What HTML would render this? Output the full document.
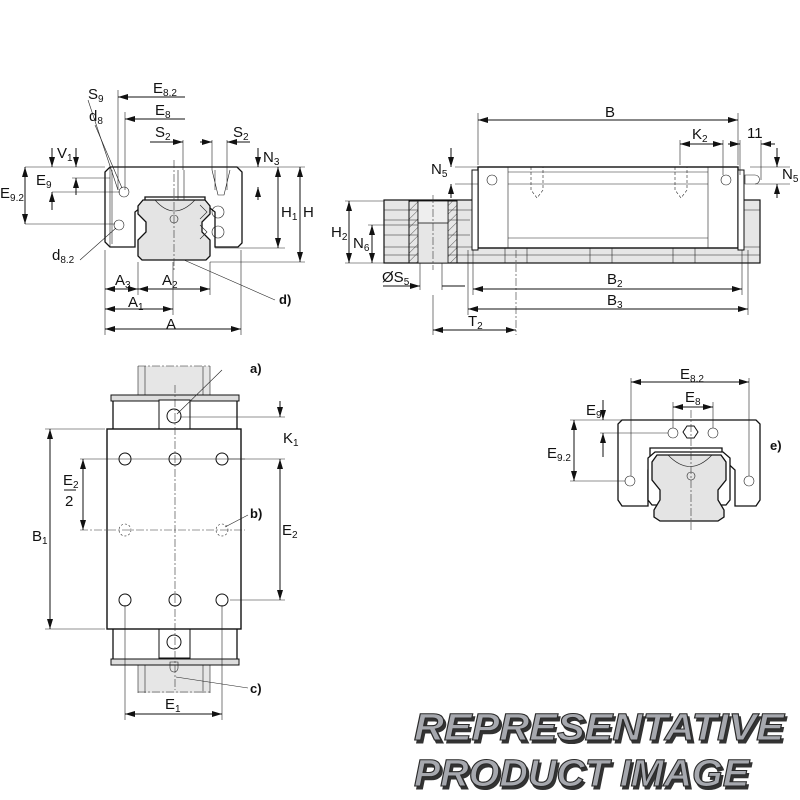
<!DOCTYPE html>
<html><head><meta charset="utf-8"><style>
html,body{margin:0;padding:0;background:#fff}
svg{display:block}
text{font-family:"Liberation Sans",sans-serif;fill:#111}
.l{stroke:#111;fill:none;stroke-width:1}
.t{stroke:#222;fill:none;stroke-width:.6}
.c{stroke:#333;fill:none;stroke-width:.6;stroke-dasharray:8 2 2 2}
.g{fill:#e4e4e4;stroke:#111;stroke-width:1.3}
.w{fill:#fff;stroke:#111;stroke-width:1.3}
.wm{font-family:"Liberation Sans",sans-serif;font-weight:bold;font-style:italic;font-size:38px;fill:#a6a8ae;stroke:#2a2a2a;stroke-width:1.1}
</style></head><body>
<svg width="800" height="800" viewBox="0 0 800 800" xmlns="http://www.w3.org/2000/svg">
<defs>
<marker id="a" viewBox="0 0 10 6" refX="10" refY="3" markerWidth="10" markerHeight="6" orient="auto-start-reverse" markerUnits="userSpaceOnUse"><path d="M0,0L10,3L0,6z" fill="#111"/></marker>
<pattern id="h" width="6" height="6" patternUnits="userSpaceOnUse" patternTransform="rotate(45)"><line x1="0" y1="0" x2="0" y2="6" stroke="#333" stroke-width=".8"/></pattern>
</defs>

<!-- ===== TOP LEFT: cross section ===== -->
<path class="w" d="M110,167 H237 L242,172 V243 L238,247 H215 V212 L205,204 V197 H145 V204 L135,212 V247 H110 L105,242 V172 Z"/>
<path class="g" d="M143,200 H205 L210,206 V214 L202,222 V232 L210,240 V256 L206,260 H142 L138,256 V240 L146,232 V222 L138,214 V206 Z"/>
<path class="t" d="M155,200 Q174,222 195,200"/>
<circle class="t" cx="174" cy="219" r="4"/>
<path class="t" d="M212,170 L218,195 L224,195 L230,170 M215,170 V190 M227,170 V190"/>
<path class="t" d="M178,170 V200 M184,170 V200"/>
<circle class="t" cx="218" cy="212" r="6"/><circle class="t" cx="218" cy="232" r="6"/>
<path class="t" d="M200,205 l7,7 l-7,7 M200,225 l7,7 l-7,7"/>
<circle class="t" cx="124" cy="192" r="5"/><circle class="t" cx="119" cy="225" r="5"/>
<path class="t" d="M110,167 V247 M112,170 V244"/>
<line class="c" x1="174" y1="160" x2="174" y2="270"/>
<g class="t">
<line x1="105" y1="250" x2="105" y2="335"/><line x1="241" y1="250" x2="241" y2="335"/>
<line x1="138" y1="262" x2="138" y2="295"/><line x1="210" y1="262" x2="210" y2="295"/><line x1="173" y1="262" x2="173" y2="315"/>
<line x1="215" y1="248" x2="285" y2="248"/><line x1="210" y1="262" x2="305" y2="262"/><line x1="237" y1="167" x2="305" y2="167"/>
<line x1="25" y1="167" x2="105" y2="167"/><line x1="25" y1="224" x2="115" y2="224"/><line x1="52" y1="192" x2="120" y2="192"/><line x1="72" y1="178" x2="110" y2="178"/>
<line x1="118" y1="90" x2="118" y2="190"/><line x1="125" y1="112" x2="125" y2="190"/>
<line x1="183" y1="140" x2="183" y2="170"/><line x1="227" y1="140" x2="227" y2="170"/><line x1="212" y1="140" x2="212" y2="170"/>
<line x1="88" y1="100" x2="118" y2="190"/><line x1="95" y1="125" x2="122" y2="188"/>
<line x1="80" y1="260" x2="116" y2="228"/><line x1="184" y1="260" x2="275" y2="300"/>
</g>
<g class="l">
<line x1="105" y1="329" x2="241" y2="329" marker-start="url(#a)" marker-end="url(#a)"/>
<line x1="105" y1="309" x2="173" y2="309" marker-start="url(#a)" marker-end="url(#a)"/>
<line x1="105" y1="289" x2="138" y2="289" marker-start="url(#a)" marker-end="url(#a)"/>
<line x1="138" y1="289" x2="210" y2="289" marker-start="url(#a)" marker-end="url(#a)"/>
<line x1="300" y1="167" x2="300" y2="262" marker-start="url(#a)" marker-end="url(#a)"/>
<line x1="278" y1="167" x2="278" y2="248" marker-start="url(#a)" marker-end="url(#a)"/>
<line x1="25" y1="167" x2="25" y2="224" marker-start="url(#a)" marker-end="url(#a)"/>
<line x1="185" y1="97" x2="118" y2="97" marker-end="url(#a)"/>
<line x1="185" y1="119" x2="125" y2="119" marker-end="url(#a)"/>
<line x1="150" y1="142" x2="183" y2="142" marker-end="url(#a)"/>
<line x1="200" y1="142" x2="212" y2="142" marker-end="url(#a)"/>
<line x1="250" y1="142" x2="227" y2="142" marker-end="url(#a)"/>
<line x1="52" y1="148" x2="52" y2="167" marker-end="url(#a)"/><line x1="52" y1="210" x2="52" y2="192" marker-end="url(#a)"/>
<line x1="76" y1="148" x2="76" y2="167" marker-end="url(#a)"/><line x1="76" y1="195" x2="76" y2="178" marker-end="url(#a)"/>
<line x1="258" y1="148" x2="258" y2="167" marker-end="url(#a)"/><line x1="258" y1="200" x2="258" y2="187" marker-end="url(#a)"/>
</g>
<g font-size="15">
<text x="166" y="329">A</text>
<text x="128" y="307">A<tspan font-size="10" dy="3">1</tspan></text>
<text x="115" y="285">A<tspan font-size="10" dy="3">3</tspan></text>
<text x="162" y="285">A<tspan font-size="10" dy="3">2</tspan></text>
<text x="281" y="217">H<tspan font-size="10" dy="3">1</tspan></text><text x="303" y="217">H</text>
<text x="263" y="162">N<tspan font-size="10" dy="3">3</tspan></text>
<text x="0" y="198">E<tspan font-size="10" dy="3">9.2</tspan></text>
<text x="36" y="185">E<tspan font-size="10" dy="3">9</tspan></text>
<text x="57" y="158">V<tspan font-size="10" dy="3">1</tspan></text>
<text x="153" y="93">E<tspan font-size="10" dy="3">8.2</tspan></text>
<text x="155" y="115">E<tspan font-size="10" dy="3">8</tspan></text>
<text x="88" y="99">S<tspan font-size="10" dy="3">9</tspan></text>
<text x="89" y="121">d<tspan font-size="10" dy="3">8</tspan></text>
<text x="155" y="137">S<tspan font-size="10" dy="3">2</tspan></text>
<text x="233" y="137">S<tspan font-size="10" dy="3">2</tspan></text>
<text x="52" y="260">d<tspan font-size="10" dy="3">8.2</tspan></text>
<text x="279" y="304" font-weight="bold" font-size="13">d)</text>
</g>

<!-- ===== TOP RIGHT: side view ===== -->
<rect x="384" y="200" width="376" height="63" fill="#e6e6e6" stroke="#111" stroke-width="1.2"/>
<g class="t"><line x1="384" y1="210" x2="760" y2="210"/><line x1="384" y1="220" x2="470" y2="220"/><line x1="384" y1="235" x2="470" y2="235"/><line x1="384" y1="247" x2="760" y2="247"/><line x1="384" y1="255" x2="760" y2="255"/>
<line x1="505" y1="248" x2="505" y2="263"/><line x1="527" y1="248" x2="527" y2="263"/><line x1="590" y1="248" x2="590" y2="263"/><line x1="612" y1="248" x2="612" y2="263"/><line x1="673" y1="248" x2="673" y2="263"/><line x1="695" y1="248" x2="695" y2="263"/></g>
<rect x="409" y="201" width="48" height="62" fill="url(#h)" stroke="#111" stroke-width="1"/>
<rect x="418" y="201" width="30" height="62" fill="#e6e6e6" stroke="#111" stroke-width=".8"/>
<rect x="418" y="201" width="30" height="22" fill="#eee" stroke="#111" stroke-width=".8"/>
<rect x="478" y="167" width="260" height="81" fill="#fff" stroke="#111" stroke-width="1.4"/>
<rect x="472" y="170" width="6" height="80" fill="#fff" stroke="#111"/>
<rect x="738" y="170" width="6" height="80" fill="#fff" stroke="#111"/>
<g class="t"><line x1="508" y1="167" x2="508" y2="248"/><line x1="708" y1="167" x2="708" y2="248"/><line x1="508" y1="172" x2="708" y2="172"/><line x1="508" y1="184" x2="708" y2="184"/><line x1="508" y1="238" x2="708" y2="238"/>
<path d="M531,167 V190 L537,198 L543,190 V167 M675,167 V190 L681,198 L687,190 V167" stroke-dasharray="3 2"/></g>
<circle class="t" cx="492" cy="180" r="5"/><circle class="t" cx="726" cy="180" r="5"/>
<path class="t" d="M745,175 h10 a4,4 0 0 1 0,9 h-10 z"/>
<g class="t">
<line x1="478" y1="113" x2="478" y2="165"/><line x1="738" y1="113" x2="738" y2="165"/>
<line x1="680" y1="140" x2="680" y2="165"/><line x1="723" y1="140" x2="723" y2="175"/><line x1="740" y1="140" x2="740" y2="175"/><line x1="761" y1="140" x2="761" y2="180"/>
<line x1="455" y1="167" x2="478" y2="167"/><line x1="455" y1="184" x2="478" y2="184"/>
<line x1="750" y1="167" x2="790" y2="167"/><line x1="755" y1="184" x2="790" y2="184"/>
<line x1="345" y1="201" x2="384" y2="201"/><line x1="368" y1="225" x2="418" y2="225"/><line x1="345" y1="263" x2="384" y2="263"/>
<line x1="420" y1="263" x2="420" y2="290"/><line x1="442" y1="263" x2="442" y2="290"/>
<line x1="473" y1="250" x2="473" y2="295"/><line x1="742" y1="250" x2="742" y2="295"/><line x1="468" y1="250" x2="468" y2="315"/><line x1="748" y1="250" x2="748" y2="315"/>
<line x1="433" y1="295" x2="433" y2="335"/>
</g>
<line class="c" x1="516" y1="250" x2="516" y2="335"/><line class="c" x1="433" y1="195" x2="433" y2="270"/>
<g class="l">
<line x1="478" y1="120" x2="738" y2="120" marker-start="url(#a)" marker-end="url(#a)"/>
<line x1="680" y1="144" x2="723" y2="144" marker-start="url(#a)" marker-end="url(#a)"/>
<line x1="728" y1="144" x2="740" y2="144" marker-end="url(#a)"/><line x1="775" y1="144" x2="761" y2="144" marker-end="url(#a)"/>
<line x1="451" y1="148" x2="451" y2="167" marker-end="url(#a)"/><line x1="451" y1="198" x2="451" y2="184" marker-end="url(#a)"/>
<line x1="777" y1="148" x2="777" y2="167" marker-end="url(#a)"/><line x1="777" y1="198" x2="777" y2="184" marker-end="url(#a)"/>
<line x1="349" y1="201" x2="349" y2="263" marker-start="url(#a)" marker-end="url(#a)"/>
<line x1="372" y1="225" x2="372" y2="263" marker-start="url(#a)" marker-end="url(#a)"/>
<line x1="383" y1="286" x2="420" y2="286" marker-end="url(#a)"/><line x1="442" y1="286" x2="465" y2="286"/>
<line x1="473" y1="289" x2="742" y2="289" marker-start="url(#a)" marker-end="url(#a)"/>
<line x1="468" y1="309" x2="748" y2="309" marker-start="url(#a)" marker-end="url(#a)"/>
<line x1="433" y1="330" x2="516" y2="330" marker-start="url(#a)" marker-end="url(#a)"/>
</g>
<g font-size="15">
<text x="605" y="117">B</text>
<text x="692" y="139">K<tspan font-size="10" dy="3">2</tspan></text>
<text x="747" y="138">11</text>
<text x="431" y="174">N<tspan font-size="10" dy="3">5</tspan></text>
<text x="782" y="179">N<tspan font-size="10" dy="3">5</tspan></text>
<text x="331" y="237">H<tspan font-size="10" dy="3">2</tspan></text>
<text x="353" y="248">N<tspan font-size="10" dy="3">6</tspan></text>
<text x="382" y="282">ØS<tspan font-size="10" dy="3">5</tspan></text>
<text x="607" y="284">B<tspan font-size="10" dy="3">2</tspan></text>
<text x="607" y="305">B<tspan font-size="10" dy="3">3</tspan></text>
<text x="468" y="326">T<tspan font-size="10" dy="3">2</tspan></text>
</g>

<!-- ===== BOTTOM LEFT: top view ===== -->
<rect x="138" y="366" width="72" height="327" fill="#e6e6e6" stroke="none"/>
<g class="t"><line x1="138" y1="366" x2="138" y2="693"/><line x1="145" y1="366" x2="145" y2="693"/><line x1="203" y1="366" x2="203" y2="693"/><line x1="210" y1="366" x2="210" y2="693"/><line x1="138" y1="366" x2="210" y2="366" stroke-dasharray="8 2 2 2"/><line x1="138" y1="692" x2="210" y2="692" stroke-dasharray="8 2 2 2"/></g>
<rect x="113" y="398" width="124" height="264" fill="#fff" stroke="#111" stroke-width="1.3"/>
<rect x="111" y="395" width="128" height="6" fill="#ddd" stroke="#111"/><rect x="111" y="659" width="128" height="6" fill="#ddd" stroke="#111"/>
<rect x="159" y="400" width="31" height="29" fill="#fff" stroke="#111"/><rect x="159" y="629" width="31" height="29" fill="#fff" stroke="#111"/>
<circle class="l" cx="174" cy="416" r="7"/><circle class="l" cx="174" cy="642" r="7"/>
<rect x="107" y="429" width="134" height="200" fill="#fff" stroke="#111" stroke-width="1.4"/>
<g class="l" stroke-width="1.2">
<circle cx="125" cy="459" r="6"/><circle cx="175" cy="459" r="6"/><circle cx="222" cy="459" r="6"/>
<circle cx="125" cy="600" r="6"/><circle cx="175" cy="600" r="6"/><circle cx="222" cy="600" r="6"/>
</g>
<g class="t" stroke-dasharray="2 2"><circle cx="125" cy="530" r="6"/><circle cx="222" cy="530" r="6"/></g>
<path class="t" d="M170,662 h8 v6 a4,4 0 0 1 -8,0 z"/>
<line class="c" x1="175" y1="385" x2="175" y2="690"/>
<line class="c" x1="80" y1="530" x2="245" y2="530"/>
<g class="t">
<line x1="45" y1="429" x2="105" y2="429"/><line x1="45" y1="629" x2="105" y2="629"/>
<line x1="80" y1="459" x2="245" y2="459"/><line x1="230" y1="600" x2="285" y2="600"/><line x1="180" y1="417" x2="285" y2="417"/><line x1="228" y1="459" x2="285" y2="459"/>
<line x1="125" y1="605" x2="125" y2="720"/><line x1="222" y1="605" x2="222" y2="720"/>
<line x1="177" y1="414" x2="222" y2="370"/><line x1="225" y1="527" x2="248" y2="515"/><line x1="176" y1="677" x2="248" y2="688"/>
</g>
<g class="l">
<line x1="50" y1="429" x2="50" y2="629" marker-start="url(#a)" marker-end="url(#a)"/>
<line x1="83" y1="459" x2="83" y2="530" marker-start="url(#a)" marker-end="url(#a)"/>
<line x1="280" y1="459" x2="280" y2="600" marker-start="url(#a)" marker-end="url(#a)"/>
<line x1="280" y1="401" x2="280" y2="417" marker-end="url(#a)"/><line x1="280" y1="470" x2="280" y2="459"/>
<line x1="125" y1="714" x2="222" y2="714" marker-start="url(#a)" marker-end="url(#a)"/>
</g>
<line x1="64" y1="490" x2="76" y2="490" stroke="#111"/>
<g font-size="15">
<text x="32" y="541">B<tspan font-size="10" dy="3">1</tspan></text>
<text x="63" y="485">E<tspan font-size="10" dy="3">2</tspan></text><text x="65" y="506">2</text>
<text x="282" y="535">E<tspan font-size="10" dy="3">2</tspan></text>
<text x="283" y="443">K<tspan font-size="10" dy="3">1</tspan></text>
<text x="165" y="709">E<tspan font-size="10" dy="3">1</tspan></text>
<text x="250" y="373" font-weight="bold" font-size="13">a)</text>
<text x="250" y="518" font-weight="bold" font-size="13">b)</text>
<text x="250" y="693" font-weight="bold" font-size="13">c)</text>
</g>

<!-- ===== RIGHT SMALL: end view ===== -->
<path class="w" d="M622,420 H756 L760,424 V500 L756,506 H735 V470 L722,458 V448 H650 V458 L648,470 V506 H622 L618,500 V424 Z"/>
<path class="w" d="M655,452 H723 L730,458 V500 L726,505 H652 L648,500 V458 Z" />
<path class="g" d="M657,455 H721 L726,462 V480 L718,490 V500 L724,510 V517 L718,521 H660 L654,517 V510 L660,500 V490 L652,480 V462 Z"/>
<path class="t" d="M668,455 Q690,478 712,455"/>
<circle class="t" cx="691" cy="476" r="4"/>
<circle class="t" cx="673" cy="433" r="5"/><circle class="t" cx="713" cy="433" r="5"/><circle class="t" cx="630" cy="481" r="5"/><circle class="t" cx="749" cy="481" r="5"/>
<path class="l" d="M687,426 h7 l4,6 l-4,6 h-7 l-4,-6 z"/>
<line class="c" x1="691" y1="410" x2="691" y2="530"/>
<g class="t">
<line x1="631" y1="378" x2="631" y2="476"/><line x1="749" y1="378" x2="749" y2="476"/>
<line x1="673" y1="402" x2="673" y2="428"/><line x1="713" y1="402" x2="713" y2="428"/>
<line x1="570" y1="420" x2="622" y2="420"/><line x1="600" y1="433" x2="668" y2="433"/><line x1="570" y1="481" x2="625" y2="481"/>
</g>
<g class="l">
<line x1="631" y1="382" x2="749" y2="382" marker-start="url(#a)" marker-end="url(#a)"/>
<line x1="673" y1="407" x2="713" y2="407" marker-start="url(#a)" marker-end="url(#a)"/>
<line x1="574" y1="420" x2="574" y2="481" marker-start="url(#a)" marker-end="url(#a)"/>
<line x1="603" y1="400" x2="603" y2="420" marker-end="url(#a)"/><line x1="603" y1="457" x2="603" y2="433" marker-end="url(#a)"/>
</g>
<g font-size="15">
<text x="680" y="379">E<tspan font-size="10" dy="3">8.2</tspan></text>
<text x="685" y="402">E<tspan font-size="10" dy="3">8</tspan></text>
<text x="586" y="415">E<tspan font-size="10" dy="3">9</tspan></text>
<text x="547" y="458">E<tspan font-size="10" dy="3">9.2</tspan></text>
<text x="770" y="450" font-weight="bold" font-size="13">e)</text>
</g>

<!-- watermark -->
<g>
<text class="wm" x="414" y="740" transform="translate(2,3)" style="fill:#333;stroke:#333" textLength="370" lengthAdjust="spacingAndGlyphs">REPRESENTATIVE</text>
<text class="wm" x="414" y="740" textLength="370" lengthAdjust="spacingAndGlyphs">REPRESENTATIVE</text>
<text class="wm" x="414" y="786" transform="translate(2,3)" style="fill:#333;stroke:#333" textLength="335" lengthAdjust="spacingAndGlyphs">PRODUCT IMAGE</text>
<text class="wm" x="414" y="786" textLength="335" lengthAdjust="spacingAndGlyphs">PRODUCT IMAGE</text>
</g>
</svg>
</body></html>
